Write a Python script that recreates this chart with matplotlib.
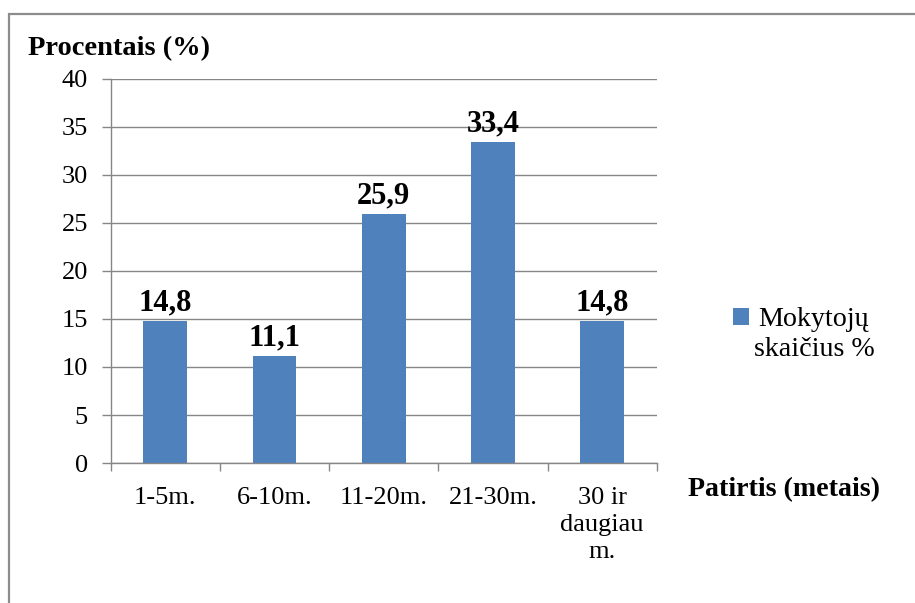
import matplotlib.pyplot as plt
from matplotlib.patches import Rectangle

categories = ["1-5m.", "6-10m.", "11-20m.", "21-30m.", "30 ir\ndaugiau\nm."]
values = [14.8, 11.1, 25.9, 33.4, 14.8]
value_labels = ["14,8", "11,1", "25,9", "33,4", "14,8"]
series_name = ["Mokytojų", "skaičius %"]
y_ticks = [0, 5, 10, 15, 20, 25, 30, 35, 40]

BAR_COLOR = "#4F81BD"
GRID_COLOR = "#868686"

plt.rcParams["font.family"] = ["Liberation Serif", "DejaVu Serif"]

fig = plt.figure(figsize=(9.15, 6.03), dpi=100)
W, H = 915, 603

# outer chart frame
fig.patches.append(Rectangle((9 / W, -0.1), 1.2, 1 - 14 / H + 0.1,
                             transform=fig.transFigure, fill=False,
                             edgecolor="#8c8c8c", linewidth=1.6))

ax = fig.add_axes([110.7 / W, 1 - 463 / H, 546 / W, 384 / H])

x = list(range(len(categories)))
bars = ax.bar(x, values, width=0.4, color=BAR_COLOR, zorder=2)

for xi, v, lab in zip(x, values, value_labels):
    ax.annotate(lab, (xi, v), xytext=(0, 13), textcoords="offset points",
                ha="center", va="center", fontsize=22, fontweight="bold")

ax.set_xlim(-0.5, len(categories) - 0.5)
ax.set_ylim(0, 40)
ax.set_yticks(y_ticks)
ax.yaxis.grid(True, color=GRID_COLOR, linewidth=1.0, zorder=0)
ax.set_axisbelow(True)

for side in ["top", "right"]:
    ax.spines[side].set_visible(False)
for side in ["left", "bottom"]:
    ax.spines[side].set_color(GRID_COLOR)
    ax.spines[side].set_linewidth(1.0)

ax.tick_params(axis="y", length=6.5, width=1.0, color=GRID_COLOR, labelsize=19, pad=10)
# x tick marks sit on the category boundaries, labels in the middle
ax.set_xticks([i - 0.5 for i in range(len(categories) + 1)])
ax.set_xticklabels([])
ax.set_xticks(x, minor=True)
ax.set_xticklabels(categories, minor=True, fontsize=19, linespacing=1.32)
ax.tick_params(axis="x", which="major", length=5.5, width=1.0, color=GRID_COLOR)
ax.tick_params(axis="x", which="minor", length=0, pad=17)

fig.text(28 / W, 1 - 49 / H, "Procentais (%)", fontsize=20.5, fontweight="bold",
         ha="left", va="center")
fig.text(688 / W, 1 - 490 / H, "Patirtis (metais)", fontsize=20.2, fontweight="bold",
         ha="left", va="center")

leg = fig.legend(handles=[bars], labels=[series_name[0]], loc="center left",
                 bbox_to_anchor=(722 / W, 1 - 320 / H), frameon=False,
                 fontsize=20.2, handlelength=0.55, handleheight=0.55,
                 handletextpad=0.35, borderaxespad=0)
fig.text(814 / W, 1 - 349 / H, series_name[1], fontsize=20.2,
         ha="center", va="center")

fig.savefig("out.png", dpi=100)
